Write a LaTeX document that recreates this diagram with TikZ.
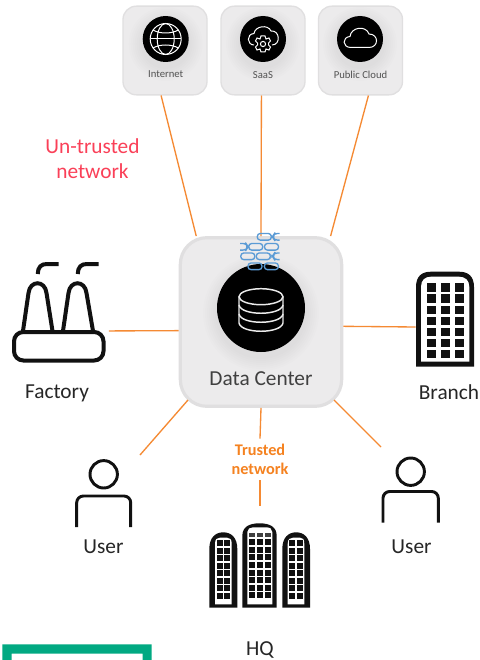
\documentclass[tikz,border=0pt]{standalone}
\usepackage{fontspec}
\setmainfont{Carlito}
\definecolor{tilefill}{HTML}{ECEBEC}
\definecolor{tileline}{HTML}{E0DFE0}
\definecolor{link}{HTML}{F58A33}
\definecolor{brick}{HTML}{5B9BD5}
\definecolor{hpe}{HTML}{01A982}
\definecolor{untrust}{HTML}{FA4058}
\definecolor{trust}{HTML}{F58220}
\definecolor{ink}{HTML}{111111}
\newcommand{\softdisc}[3]{% x, y, radius
  \foreach \e in {2,4,...,14}{\fill[black,opacity=.009] (#1,#2+5) circle[radius=#3+\e];}
  \fill[black] (#1,#2) circle[radius=#3];}
\tikzset{
  x=.75pt,y=-.75pt,
  tile/.style={draw=tileline,fill=tilefill,line width=1pt,rounded corners=10pt,minimum width=63pt,minimum height=66.5pt,inner sep=0pt},
  hub/.style={draw=tileline,fill=tilefill,line width=2.4pt,rounded corners=20pt,minimum width=121pt,minimum height=126.5pt,inner sep=0pt},
  ghost/.style={minimum width=#1,inner sep=0pt,outer sep=0pt},
  conn/.style={draw=link,line width=1pt},
  tinylabel/.style={font=\fontsize{8}{9}\selectfont,text=black!68,inner sep=0pt},
  biglabel/.style={font=\fontsize{16}{18}\selectfont,text=black!85,inner sep=0pt},
  whiteline/.style={draw=white,line width=.75pt},
  iconline/.style={draw=ink,line width=3pt},
  brickline/.style={draw=brick,line width=1pt,rounded corners=2.2pt},
}
\begin{document}
\begin{tikzpicture}
\useasboundingbox (0,0) rectangle (479,660);
\fill[white] (0,0) rectangle (479,660);

% invisible anchors for the end points
\node[ghost=74pt,minimum height=75pt] (factory) at (59.5,312) {};
\node[ghost=44pt,minimum height=71pt] (branch) at (445,327) {};
\node[ghost=52.5pt,minimum height=56.25pt] (userl) at (105,492.5) {};
\node[ghost=45pt,minimum height=58.5pt] (userr) at (411,486) {};
\node[ghost=76pt,minimum height=60pt] (hq) at (260,546) {};
\node[inner xsep=0pt,inner ysep=4pt,align=center,font=\fontsize{12.2}{14.2}\selectfont\bfseries,text=trust] (trusted) at (260,459.5) {Trusted\\network};

% tiles
\node[tile] (internet) at (165,50.5) {};
\node[tile] (saas) at (263,50.5) {};
\node[tile] (cloud) at (360.5,50.5) {};
\node[hub] (dc) at (261,322) {};
\coordinate (dcsw) at (188,400);
\coordinate (dcse) at (334,400);

% connectors
\draw[conn] (internet.-95) -- (dc.127.7);
\draw[conn] (saas.-92.5) -- (dc.north);
\draw[conn] (cloud.-80) -- (dc.51.4);
\draw[conn] (factory.-21) -- (dc.186.3);
\draw[conn] (branch.west) -- (dc.-3.5);
\draw[conn] (userl.north east) -- (dcsw);
\draw[conn] (userr.north west) -- (dcse);
\draw[conn] (dc.south) -- (trusted.north);
\draw[conn] (trusted.south) -- (hq.north);

% discs
\softdisc{165.7}{39}{23}
\softdisc{263}{39}{23}
\softdisc{360}{39}{23}
\softdisc{261}{308}{44}

% globe
\begin{scope}[whiteline]
\draw (165.7,39) circle[radius=15.5];
\draw (165.7,39) circle[x radius=8.5,y radius=15.5];
\draw (150.5,39) -- (181,39);
\draw (153,30) .. controls (160,34) and (171,34) .. (178.5,30);
\draw (153,48) .. controls (160,44) and (171,44) .. (178.5,48);
\end{scope}

% SaaS cloud with cog
\begin{scope}[whiteline]
\draw (254,45) .. controls (247,45) and (246,34) .. (254,33.5)
  .. controls (255,26) and (268,24) .. (271,31)
  .. controls (280,30) and (281,45) .. (272,45);
\draw (263,36) -- (265,36) -- (266,39) -- (269,38) -- (270.5,41) -- (268.5,43) -- (268.5,45) -- (270.5,47) -- (269,50) -- (266,49) -- (265,52) -- (261,52) -- (260,49) -- (257,50) -- (255.5,47) -- (257.5,45) -- (257.5,43) -- (255.5,41) -- (257,38) -- (260,39) -- (261,36) -- cycle;
\draw (263,44) circle[radius=2.6];
\end{scope}

% public cloud
\draw[whiteline] (351,47.5) .. controls (342,47.5) and (342,37) .. (350,36.5)
  .. controls (351,27) and (366,25) .. (369,34)
  .. controls (379,34) and (379,47.5) .. (369,47.5) -- cycle;

% database
\begin{scope}[draw=white!92!black,line width=1.1pt]
\draw (261,296.7) circle[x radius=22,y radius=8];
\draw (239,297) -- (239,305) .. controls (241,316) and (281,316) .. (283,305) -- (283,297);
\draw (239,305) -- (239,314) .. controls (241,325) and (281,325) .. (283,314) -- (283,305);
\draw (239,314) -- (239,323) .. controls (241,334) and (281,334) .. (283,323) -- (283,314);
\end{scope}

% firewall bricks
\foreach \xa/\ya in {257.3/233.5,264.5/243.5,248.7/243.5,240.8/253,256.3/253,248/263,264.4/263}{
  \draw[brickline] (\xa,\ya) rectangle ++(14,6.6);
}
\draw[brickline] (279.5,233.5) -- (274.5,233.5) -- (273.5,235) -- (273.5,238.5) -- (274.5,240.1) -- (279.5,240.1);
\draw[brickline] (240,243.5) -- (246,243.5) -- (247,245) -- (247,248.5) -- (246,250.1) -- (240,250.1);
\draw[brickline] (279.5,253) -- (274.5,253) -- (273.5,254.5) -- (273.5,258) -- (274.5,259.6) -- (279.5,259.6);

% tile and hub labels
\node[tinylabel] (tinternet) at (165.7,74.5) {Internet};
\node[tinylabel] (tsaas) at (263,75.5) {SaaS};
\node[tinylabel] (tcloud) at (360.5,74.5) {Public Cloud};
\node[font=\fontsize{16}{18}\selectfont,text=black!75,inner sep=0pt] (tdc) at (261,379) {Data Center};

\node[inner sep=0pt,align=center,font=\fontsize{16}{18.7}\selectfont,text=untrust] (untrusted) at (92.5,158.5) {Un-trusted\\network};

% factory icon
\begin{scope}[iconline,line cap=butt]
\draw[rounded corners=7pt] (14,332) rectangle (103.5,360.5);
\draw (23,331) -- (28.5,293) .. controls (30,280) and (45,280) .. (46.5,293) -- (52.5,331);
\draw (63,331) -- (68.5,293) .. controls (70,280) and (85,280) .. (86.5,293) -- (93,331);
\draw (37.7,274) .. controls (38,267) and (41,264) .. (47,264) -- (58.5,264);
\draw (77.7,274) .. controls (78,267) and (81,264) .. (87,264) -- (98.5,264);
\end{scope}

% branch icon
\fill[ink] (416,366.7) -- (416,287) .. controls (416,276) and (422,271.7) .. (431,271.7) -- (459,271.7) .. controls (468,271.7) and (474,276) .. (474,287) -- (474,366.7) -- cycle;
\fill[white] (421,361.7) -- (421,287) .. controls (421,280) and (425,276.7) .. (431,276.7) -- (459,276.7) .. controls (465,276.7) and (469.3,280) .. (469.3,287) -- (469.3,361.7) -- cycle;
\foreach \c in {0,1,2}{\foreach \r in {0,...,6}{
  \fill[ink] (427+14*\c,283.3+11.1*\r) rectangle ++(9,8.3);
}}

% HQ icon
\fill[ink] (209.3,607.7) -- (209.3,549) .. controls (209.3,538) and (215,532.3) .. (223.3,532.3) .. controls (231.6,532.3) and (237.3,538) .. (237.3,549) -- (237.3,607.7) -- cycle;
\fill[white] (215,604.3) -- (215,544) .. controls (215,539) and (217,537.7) .. (220,537.7) -- (227,537.7) .. controls (230,537.7) and (231.7,539) .. (231.7,544) -- (231.7,604.3) -- cycle;
\fill[ink] (282.3,607.7) -- (282.3,549) .. controls (282.3,538) and (288,532.3) .. (296.1,532.3) .. controls (304.3,532.3) and (310,538) .. (310,549) -- (310,607.7) -- cycle;
\fill[white] (287.7,604.3) -- (287.7,544) .. controls (287.7,539) and (290,537.7) .. (293,537.7) -- (300,537.7) .. controls (303,537.7) and (304.3,539) .. (304.3,544) -- (304.3,604.3) -- cycle;
\fill[ink] (242.3,607.7) -- (242.3,536) .. controls (242.3,527) and (249,523.3) .. (259.5,523.3) .. controls (270,523.3) and (276.7,527) .. (276.7,536) -- (276.7,607.7) -- cycle;
\fill[white] (247.3,604.3) -- (247.3,532) .. controls (247.3,529) and (250,527.3) .. (253,527.3) -- (266,527.3) .. controls (270,527.3) and (272.3,529) .. (272.3,532) -- (272.3,604.3) -- cycle;
\foreach \r in {0,...,7}{
  \foreach \xa in {216.7,224,289.3,296.7}{\fill[ink] (\xa,540+7.55*\r) rectangle ++(5.8,6);}
  \foreach \xa in {249,257,264.7}{\fill[ink] (\xa,539.3+7.55*\r) rectangle ++(6,6);}
}
\foreach \xa in {249,257,264.7}{\fill[black!75] (\xa,532.7) rectangle ++(6,4);}

% users
\begin{scope}[draw=ink,line width=2.2pt]
\draw (103.7,474.3) circle[radius=13.7];
\draw[rounded corners=5pt] (76.7,527) -- (76.7,496) -- (130.7,496) -- (130.7,527);
\draw (410.7,471.7) circle[radius=13.7];
\draw[rounded corners=5pt] (383,522.7) -- (383,491.5) -- (438.3,491.5) -- (438.3,522.7);
\end{scope}

% bottom labels
\node[biglabel] (lfactory) at (57,393) {Factory};
\node[biglabel] (lbranch) at (449,392.5) {Branch};
\node[biglabel] (luserl) at (103.5,546.5) {User};
\node[biglabel] (luserr) at (411.5,546.5) {User};
\node[biglabel] (lhq) at (260,649.5) {HQ};

% green corner bracket
\fill[hpe] (2.3,660) -- (2.3,644.3) -- (151.7,644.3) -- (151.7,660) -- (142.7,660) -- (142.7,653.6) -- (11.5,653.6) -- (11.5,660) -- cycle;
\end{tikzpicture}
\end{document}
